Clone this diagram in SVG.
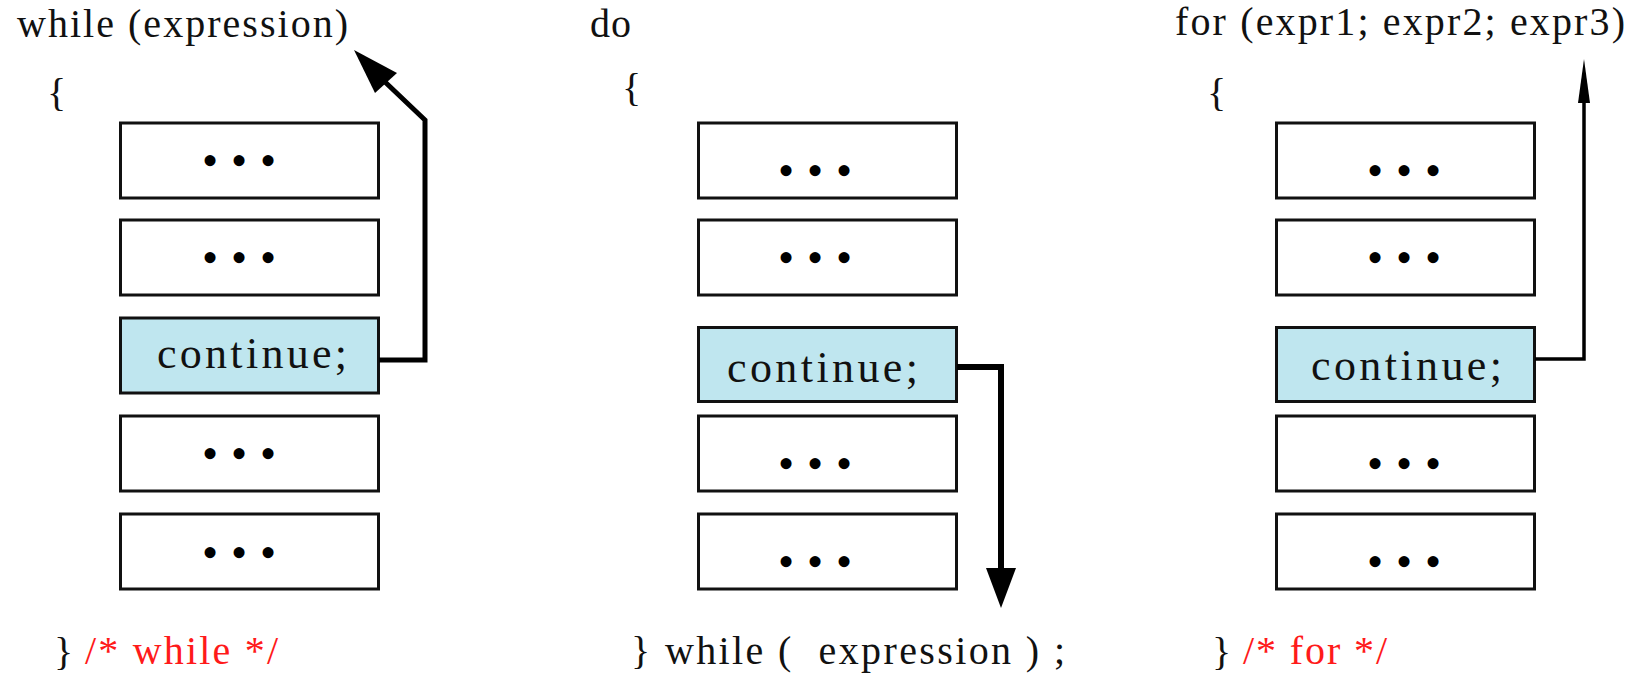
<svg xmlns="http://www.w3.org/2000/svg" width="1639" height="674" viewBox="0 0 1639 674">
  <style>
    .code { font-family: "Liberation Serif", "Times New Roman", serif; font-size: 40px; fill: #111; }
    .comment { font-family: "Liberation Serif", "Times New Roman", serif; font-size: 40px; fill: #ff1a1a; }
    .stmt { fill: #ffffff; stroke: #111; stroke-width: 3; }
    .hit { fill: #bfe6ef; stroke: #111; stroke-width: 3; }
    .dots { font-family: "Liberation Serif", "Times New Roman", serif; font-size: 46px; fill: #000; text-anchor: middle; }
    .kw { font-family: "Liberation Serif", "Times New Roman", serif; font-size: 44px; fill: #111; }
    .wire { fill: none; stroke: #000; stroke-linejoin: miter; }
    .head { fill: #000; stroke: none; }
  </style>
  <rect width="1639" height="674" fill="#ffffff"/>

  <!-- while loop -->
  <g id="while-loop">
    <text class="code" x="17" y="37" textLength="331" lengthAdjust="spacing">while (expression)</text>
    <text class="code" x="47" y="106">{</text>
    <g id="while-s1"><rect class="stmt" x="120.5" y="123" width="258" height="75"/>
      <text class="dots" y="175.5"><tspan x="210">•</tspan><tspan x="239">•</tspan><tspan x="268">•</tspan></text></g>
    <g id="while-s2"><rect class="stmt" x="120.5" y="220" width="258" height="75"/>
      <text class="dots" y="272.5"><tspan x="210">•</tspan><tspan x="239">•</tspan><tspan x="268">•</tspan></text></g>
    <g id="while-continue"><rect class="hit" x="120.5" y="318" width="258" height="75"/>
      <text class="kw" x="157" y="368" textLength="190" lengthAdjust="spacing">continue;</text></g>
    <g id="while-s4"><rect class="stmt" x="120.5" y="416" width="258" height="75"/>
      <text class="dots" y="468.5"><tspan x="210">•</tspan><tspan x="239">•</tspan><tspan x="268">•</tspan></text></g>
    <g id="while-s5"><rect class="stmt" x="120.5" y="514" width="258" height="75"/>
      <text class="dots" y="567.5"><tspan x="210">•</tspan><tspan x="239">•</tspan><tspan x="268">•</tspan></text></g>
    <text class="code" x="54" y="665">}</text>
    <text class="comment" x="85" y="664" textLength="193" lengthAdjust="spacing">/* while */</text>
  </g>

  <!-- do-while loop -->
  <g id="do-loop">
    <text class="code" x="590" y="37" textLength="41" lengthAdjust="spacing">do</text>
    <text class="code" x="622" y="101">{</text>
    <g id="do-s1"><rect class="stmt" x="698.5" y="123" width="258" height="75"/>
      <text class="dots" y="185.5"><tspan x="786">•</tspan><tspan x="815">•</tspan><tspan x="844">•</tspan></text></g>
    <g id="do-s2"><rect class="stmt" x="698.5" y="220" width="258" height="75"/>
      <text class="dots" y="272.5"><tspan x="786">•</tspan><tspan x="815">•</tspan><tspan x="844">•</tspan></text></g>
    <g id="do-continue"><rect class="hit" x="698.5" y="327.5" width="258" height="74"/>
      <text class="kw" x="727" y="382" textLength="191" lengthAdjust="spacing">continue;</text></g>
    <g id="do-s4"><rect class="stmt" x="698.5" y="416" width="258" height="75"/>
      <text class="dots" y="478.5"><tspan x="786">•</tspan><tspan x="815">•</tspan><tspan x="844">•</tspan></text></g>
    <g id="do-s5"><rect class="stmt" x="698.5" y="514" width="258" height="75"/>
      <text class="dots" y="576.5"><tspan x="786">•</tspan><tspan x="815">•</tspan><tspan x="844">•</tspan></text></g>
    <text class="code" x="631" y="664" textLength="434" lengthAdjust="spacing" xml:space="preserve">} while (  expression ) ;</text>
  </g>

  <!-- for loop -->
  <g id="for-loop">
    <text class="code" x="1175" y="35" textLength="450" lengthAdjust="spacing">for (expr1; expr2; expr3)</text>
    <text class="code" x="1207" y="106">{</text>
    <g id="for-s1"><rect class="stmt" x="1276.5" y="123" width="258" height="75"/>
      <text class="dots" y="185.5"><tspan x="1375">•</tspan><tspan x="1404">•</tspan><tspan x="1433">•</tspan></text></g>
    <g id="for-s2"><rect class="stmt" x="1276.5" y="220" width="258" height="75"/>
      <text class="dots" y="272.5"><tspan x="1375">•</tspan><tspan x="1404">•</tspan><tspan x="1433">•</tspan></text></g>
    <g id="for-continue"><rect class="hit" x="1276.5" y="327.5" width="258" height="74"/>
      <text class="kw" x="1311" y="380" textLength="191" lengthAdjust="spacing">continue;</text></g>
    <g id="for-s4"><rect class="stmt" x="1276.5" y="416" width="258" height="75"/>
      <text class="dots" y="478.5"><tspan x="1375">•</tspan><tspan x="1404">•</tspan><tspan x="1433">•</tspan></text></g>
    <g id="for-s5"><rect class="stmt" x="1276.5" y="514" width="258" height="75"/>
      <text class="dots" y="576.5"><tspan x="1375">•</tspan><tspan x="1404">•</tspan><tspan x="1433">•</tspan></text></g>
    <text class="code" x="1212" y="665">}</text>
    <text class="comment" x="1243" y="664" textLength="144" lengthAdjust="spacing">/* for */</text>
  </g>

  <!-- continue jumps -->
  <g id="connectors">
    <path class="wire" stroke-width="5" d="M379 360 H425 V120 L384 81"/>
    <polygon class="head" points="354,50 397,73 375,93"/>
    <path class="wire" stroke-width="6" d="M957 367 H1001 V572"/>
    <polygon class="head" points="986,568 1016,568 1001,608"/>
    <path class="wire" stroke-width="3.5" d="M1535 359 H1584 V100"/>
    <polygon class="head" points="1578,103 1590,103 1584,59"/>
  </g>
</svg>
